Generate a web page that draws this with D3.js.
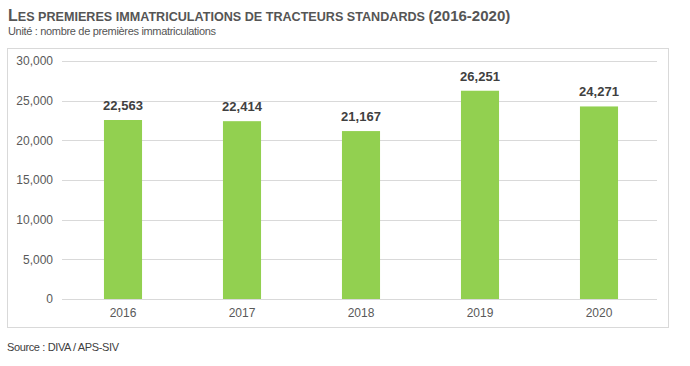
<!DOCTYPE html>
<html>
<head>
<meta charset="utf-8">
<script src="https://cdn.jsdelivr.net/npm/d3@7"></script>
<style>
  body { margin: 0; background: #fff; }
  svg text { font-family: "Liberation Sans", Arial, sans-serif; }
</style>
</head>
<body>
<div id="chart"></div>
<script>
// data
const years = ["2016", "2017", "2018", "2019", "2020"];
const values = [22563, 22414, 21167, 26251, 24271];
const yTicks = [0, 5000, 10000, 15000, 20000, 25000, 30000];

const W = 690, H = 366;
const svg = d3.select("#chart").append("svg")
    .attr("width", W).attr("height", H);

// title
const title = svg.append("text")
    .attr("x", 8).attr("y", 21)
    .attr("fill", "#555")
    .style("font-weight", "bold");
title.append("tspan").attr("font-size", 16).text("L");
title.append("tspan").attr("font-size", 12.6).text("ES PREMIERES IMMATRICULATIONS DE TRACTEURS STANDARDS ");
title.append("tspan").attr("font-size", 15).text("(2016-2020)");

svg.append("text")
    .attr("x", 8).attr("y", 35)
    .attr("font-size", 11).attr("fill", "#555")
    .attr("textLength", 208)
    .text("Unité : nombre de premières immatriculations");

// chart frame
svg.append("rect")
    .attr("x", 7.5).attr("y", 48.5)
    .attr("width", 661).attr("height", 279)
    .attr("fill", "none").attr("stroke", "#d9d9d9");

const margin = {left: 62, right: 657, top: 61, bottom: 299};

// bars sit ~1.5px right of the grid centre in the original
const x = d3.scaleBand()
    .domain(years)
    .range([margin.left + 1.5, margin.right + 1.5])
    .paddingInner(0.68).paddingOuter(0.34);

const y = d3.scaleLinear()
    .domain([0, 30000])
    .range([margin.bottom, margin.top]);

// grid lines
svg.append("g")
  .selectAll("line")
  .data(yTicks)
  .join("line")
    .attr("x1", margin.left).attr("x2", margin.right)
    .attr("y1", d => Math.round(y(d)) + 0.5)
    .attr("y2", d => Math.round(y(d)) + 0.5)
    .attr("stroke", "#d9d9d9");

// y axis labels
const yAxis = d3.axisLeft(y)
    .tickValues(yTicks)
    .tickFormat(d3.format(","))
    .tickSize(0).tickPadding(9);
const gy = svg.append("g")
    .attr("transform", `translate(${margin.left},0)`)
    .call(yAxis);
gy.select(".domain").remove();
gy.selectAll("text").attr("font-size", 12).attr("fill", "#595959")
    .style("font-family", "Liberation Sans, Arial, sans-serif");

// x axis labels
const xAxis = d3.axisBottom(x).tickSize(0).tickPadding(9);
const gx = svg.append("g")
    .attr("transform", `translate(0,${margin.bottom})`)
    .call(xAxis);
gx.select(".domain").remove();
gx.selectAll("text").attr("font-size", 12).attr("fill", "#595959")
    .style("font-family", "Liberation Sans, Arial, sans-serif");

// bars
svg.append("g")
  .selectAll("rect")
  .data(values)
  .join("rect")
    .attr("x", (d, i) => x(years[i]))
    .attr("y", d => y(d))
    .attr("width", x.bandwidth())
    .attr("height", d => y(0) - y(d))
    .attr("fill", "#92d050");

// value labels
svg.append("g")
  .selectAll("text")
  .data(values)
  .join("text")
    .attr("x", (d, i) => x(years[i]) + x.bandwidth() / 2)
    .attr("y", d => y(d) - 10)
    .attr("text-anchor", "middle")
    .attr("font-size", 13)
    .attr("font-weight", "bold")
    .attr("fill", "#404040")
    .text(d => d3.format(",")(d));

// source
svg.append("text")
    .attr("x", 7).attr("y", 351)
    .attr("font-size", 11).attr("fill", "#404040")
    .attr("textLength", 112)
    .text("Source : DIVA / APS-SIV");
</script>
</body>
</html>
